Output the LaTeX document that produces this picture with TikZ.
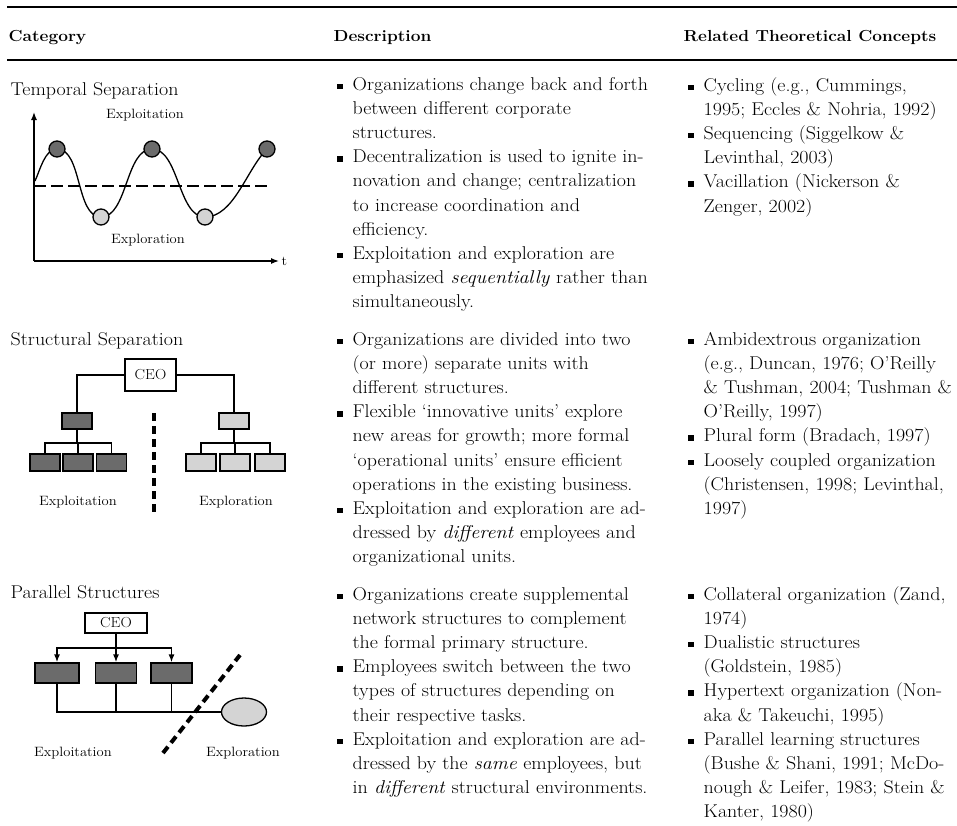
\documentclass[tikz,border=0pt]{standalone}
\usepackage{fontspec}
\setmainfont{Latin Modern Roman}[FakeStretch=1.08]
\usetikzlibrary{shapes.geometric,arrows.meta}
\definecolor{darkbox}{gray}{0.42}
\definecolor{lightbox}{gray}{0.83}
\newcommand{\sqb}{\leavevmode\llap{\rule[1pt]{5.5pt}{5.5pt}\hspace{10pt}}}

\begin{document}
\begin{tikzpicture}[x=1pt,y=-1pt,>={Latex[length=8pt,width=6pt]},line width=1.3pt,
  title/.style={anchor=base west,inner sep=0pt,font=\fontsize{18.5}{24.2}\selectfont},
  head/.style={anchor=base west,inner sep=0pt,font=\fontsize{16}{20}\selectfont\bfseries},
  body/.style={anchor=base west,inner sep=0pt,align=left,font=\fontsize{18.5}{24.2}\selectfont},
  small/.style={inner sep=0pt,font=\fontsize{13.5}{16}\selectfont},
  ceo/.style={draw,fill=white,inner sep=0pt,font=\fontsize{14.5}{16}\selectfont},
  dbox/.style={draw,fill=darkbox,inner sep=0pt},
  lbox/.style={draw,fill=lightbox,inner sep=0pt},
  dot/.style={circle,draw,inner sep=0pt,minimum size=16pt},
  sepline/.style={line width=4.5pt,dash pattern=on 8pt off 5pt}]
\useasboundingbox (0,0) rectangle (957,825);
\draw[line width=2pt] (7,7) -- (957,7);
\draw[line width=2pt] (7,60) -- (957,60);
\node[head] (hcat) at (8,41) {Category};
\node[head] (hdesc) at (333,41) {Description};
\node[head] (hrel) at (683,41) {Related Theoretical Concepts};

\node[title] (ttemp) at (10,95) {Temporal Separation};
\coordinate (org) at (34,261);
\coordinate (ytop) at (34,112);
\coordinate (xend) at (279,261);
\path[->] (org) edge (ytop);
\path[->] (org) edge (xend);
\node[small,anchor=west] (tlab) at (281,261) {t};
\draw[line width=1.5pt,dash pattern=on 12pt off 5pt] (34,186) -- (268,186);
\coordinate (w0) at (35,181);
\coordinate (hi1) at (57,149);
\coordinate (lo1) at (101,217);
\coordinate (hi2) at (152,149);
\coordinate (lo2) at (205,217);
\coordinate (hi3) at (267,149);
\draw[looseness=0.8] (w0) to[out=65,in=180] (hi1) to[out=0,in=180] (lo1) to[out=0,in=180] (hi2)
  to[out=0,in=180] (lo2) to[out=0,in=225] (hi3);
\node[dot,fill=darkbox] (c1) at (hi1) {};
\node[dot,fill=darkbox] (c2) at (hi2) {};
\node[dot,fill=darkbox] (c3) at (hi3) {};
\node[dot,fill=lightbox] (c4) at (lo1) {};
\node[dot,fill=lightbox] (c5) at (lo2) {};
\node[small] (texpt) at (145,115) {Exploitation};
\node[small] (texpr) at (148,240) {Exploration};

\node[title] (tstruc) at (10,345) {Structural Separation};
\node[ceo,minimum width=51pt,minimum height=32pt] (ceos) at (150.5,375) {CEO};
\node[dbox,minimum width=30pt,minimum height=16pt] (lms) at (77,421) {};
\node[lbox,minimum width=30pt,minimum height=16pt] (rms) at (234,421) {};
\node[dbox,minimum width=30pt,minimum height=17pt] (lb1) at (45,462.5) {};
\node[dbox,minimum width=30pt,minimum height=17pt] (lb2) at (78,462.5) {};
\node[dbox,minimum width=30pt,minimum height=17pt] (lb3) at (111.5,462.5) {};
\node[lbox,minimum width=30pt,minimum height=17pt] (rb1) at (201,462.5) {};
\node[lbox,minimum width=30pt,minimum height=17pt] (rb2) at (235,462.5) {};
\node[lbox,minimum width=30pt,minimum height=17pt] (rb3) at (270,462.5) {};
\draw (ceos.west) -| (lms.north);
\draw (ceos.east) -| (rms.north);
\coordinate (lbar) at (77,443);
\coordinate (rbar) at (234,443);
\draw (lms) -- (lbar);
\draw (lb2) -- (lb2 |- lbar);
\draw (lb1) |- (lbar) -| (lb3);
\draw (rms) -- (rbar);
\draw (rb2) -- (rb2 |- rbar);
\draw (rb1) |- (rbar) -| (rb3);
\coordinate (sa) at (154,413);
\coordinate (sb) at (154,513);
\draw[sepline] (sa) -- (sb);
\node[small] (sexpt) at (78,502) {Exploitation};
\node[small] (sexpr) at (236,502) {Exploration};

\node[title] (tpar) at (10,598) {Parallel Structures};
\node[ceo,minimum width=62pt,minimum height=20pt] (ceop) at (116,623) {CEO};
\node[dbox,minimum width=44pt,minimum height=20pt] (pb1) at (57,673) {};
\node[dbox,minimum width=41pt,minimum height=20pt] (pb2) at (116,673) {};
\node[dbox,minimum width=41pt,minimum height=20pt] (pb3) at (171.5,673) {};
\node[ellipse,draw,fill=lightbox,minimum width=45pt,minimum height=28pt] (ell) at (244,712) {};
\coordinate (pbar) at (116,648);
\draw (ceop) -- (pbar);
\draw[->] (pbar) -- (pb2);
\draw[->] (pbar) -| (pb1);
\draw[->] (pbar) -| (pb3);
\coordinate (pbus) at (57,712);
\draw (pb1) -- (pbus) -- (ell);
\draw (pb2) -- (pb2 |- pbus);
\draw (pb3) -- (pb3 |- pbus);
\coordinate (da) at (163,753);
\coordinate (db) at (240,655);
\draw[line width=4pt,dash pattern=on 8pt off 5pt] (da) -- (db);
\node[small] (pexpt) at (73,753) {Exploitation};
\node[small] (pexpr) at (243,753) {Exploration};

\node[body,text width=330pt] (d1) at (352,90) {\sqb Organizations change back and forth\\
between different corporate\\
structures.\\
\sqb Decentralization is used to ignite in-\\
novation and change; centralization\\
to increase coordination and\\
efficiency.\\
\sqb Exploitation and exploration are\\
emphasized \textit{sequentially} rather than\\
simultaneously.};
\node[body,text width=330pt] (d2) at (352,345) {\sqb Organizations are divided into two\\
(or more) separate units with\\
different structures.\\
\sqb Flexible `innovative units' explore\\
new areas for growth; more formal\\
`operational units' ensure efficient\\
operations in the existing business.\\
\sqb Exploitation and exploration are ad-\\
dressed by \textit{different} employees and\\
organizational units.};
\node[body,text width=330pt] (d3) at (352,600) {\sqb Organizations create supplemental\\
network structures to complement\\
the formal primary structure.\\
\sqb Employees switch between the two\\
types of structures depending on\\
their respective tasks.\\
\sqb Exploitation and exploration are ad-\\
dressed by the \textit{same} employees, but\\
in \textit{different} structural environments.};

\node[body,text width=270pt] (r1) at (703,91) {\sqb Cycling (e.g., Cummings,\\
1995; Eccles \& Nohria, 1992)\\
\sqb Sequencing (Siggelkow \&\\
Levinthal, 2003)\\
\sqb Vacillation (Nickerson \&\\
Zenger, 2002)};
\node[body,text width=270pt] (r2) at (703,345) {\sqb Ambidextrous organization\\
(e.g., Duncan, 1976; O'Reilly\\
\& Tushman, 2004; Tushman \&\\
O'Reilly, 1997)\\
\sqb Plural form (Bradach, 1997)\\
\sqb Loosely coupled organization\\
(Christensen, 1998; Levinthal,\\
1997)};
\node[body,text width=270pt] (r3) at (703,600) {\sqb Collateral organization (Zand,\\
1974)\\
\sqb Dualistic structures\\
(Goldstein, 1985)\\
\sqb Hypertext organization (Non-\\
aka \& Takeuchi, 1995)\\
\sqb Parallel learning structures\\
(Bushe \& Shani, 1991; McDo-\\
nough \& Leifer, 1983; Stein \&\\
Kanter, 1980)};
\end{tikzpicture}
\end{document}
